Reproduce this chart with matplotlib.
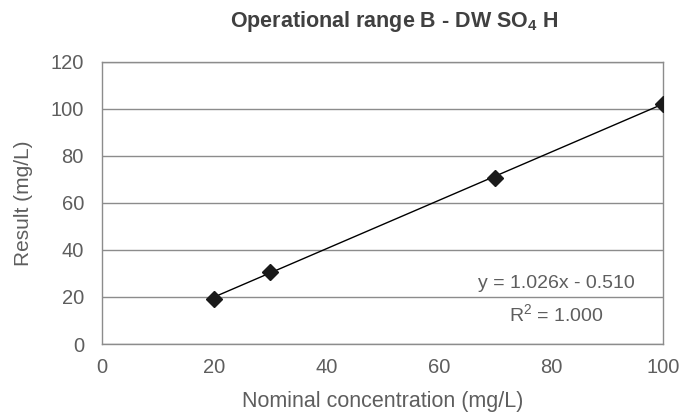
import matplotlib
matplotlib.use('Agg')
import matplotlib.pyplot as plt
import numpy as np

plt.rcParams['font.family'] = ['Liberation Sans', 'DejaVu Sans']
plt.rcParams['mathtext.fontset'] = 'custom'
plt.rcParams['mathtext.rm'] = 'Liberation Sans'
plt.rcParams['mathtext.bf'] = 'Liberation Sans:bold'

nominal = [20, 30, 70, 100]
result = [19.2, 30.6, 70.6, 102.0]
x_ticks = [0, 20, 40, 60, 80, 100]
y_ticks = [0, 20, 40, 60, 80, 100, 120]
slope, intercept = 1.026, -0.510

txt = '#5e5e5e'
grid = '#8c8c8c'

fig = plt.figure(figsize=(6.81, 4.12), dpi=100)
ax = fig.add_axes([0.1498, 0.165, 0.824, 0.685])

xs = np.array([min(nominal), max(nominal)])
ax.plot(xs, slope * xs + intercept, color='black', lw=1.0, zorder=3)
ax.plot(nominal, result, linestyle='none', marker='D', markersize=8,
        color='#1a1a1a', markeredgecolor='#1a1a1a', zorder=4)

ax.set_xlim(0, 100)
ax.set_ylim(0, 120)
ax.set_xticks(x_ticks)
ax.set_yticks(y_ticks)
ax.tick_params(length=0, labelsize=14.5, colors=txt)
ax.tick_params(axis='x', pad=10)
ax.tick_params(axis='y', pad=13)
ax.yaxis.grid(True, color=grid, lw=1.0)
ax.set_axisbelow(True)
for s in ax.spines.values():
    s.set_color(grid)
    s.set_linewidth(1.0)

ax.set_xlabel('Nominal concentration (mg/L)', fontsize=15.5, color=txt, labelpad=10)
ax.set_ylabel('Result (mg/L)', fontsize=15, color=txt, labelpad=13)

ax.text(81, 25.7, 'y = 1.026x - 0.510', fontsize=14, color=txt, ha='center', va='center')
ax.text(81, 12.6, r'R$^2$ = 1.000', fontsize=14, color=txt, ha='center', va='center')

fig.text(0.579, 0.947, r'Operational range B - DW SO$_\mathbf{4}$ H', fontsize=15.5,
         fontweight='bold', color='#404040', ha='center', va='center')

fig.savefig('out.png', dpi=100)
